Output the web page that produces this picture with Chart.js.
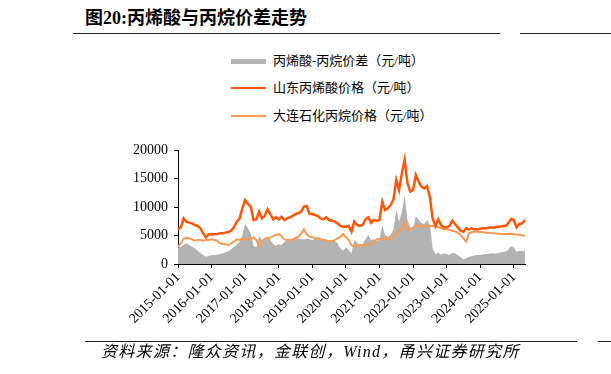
<!DOCTYPE html>
<html>
<head>
<meta charset="utf-8">
<script src="https://cdn.jsdelivr.net/npm/chart.js@4.4.0/dist/chart.umd.min.js"></script>
<style>
  body { margin: 0; width: 611px; height: 374px; background: #fff; position: relative; overflow: hidden;
         font-family: "Liberation Serif", "Noto Sans CJK SC", serif; color: #000; }
  #title { position: absolute; left: 85px; top: 7px; font-size: 18px; font-weight: bold; line-height: 22px; white-space: nowrap; }
  .rule { position: absolute; height: 0; border-top: 1.5px solid #222; }
  .leg { position: absolute; left: 231px; height: 20px; white-space: nowrap; font-size: 13px; line-height: 20px; }
  .leg .sw { position: absolute; left: 0; width: 35px; }
  .leg span { position: absolute; left: 42px; top: 0; }
  #source { position: absolute; left: 101px; top: 342px; font-size: 16px; letter-spacing: 1.3px; font-style: italic; line-height: 20px; white-space: nowrap; }
  #wrap { position: absolute; left: 0; top: 0; width: 611px; height: 374px; }
</style>
</head>
<body>
<div id="title">图20:丙烯酸与丙烷价差走势</div>
<div class="rule" style="left:73px;width:427px;top:33px"></div>
<div class="rule" style="left:520px;width:91px;top:33px"></div>
<div id="legend"></div>
<div id="wrap"><canvas id="chart" width="611" height="374"></canvas></div>
<div class="rule" style="left:85px;width:492px;top:341px"></div>
<div class="rule" style="left:598px;width:13px;top:341px"></div>
<div id="source">资料来源：隆众资讯，金联创，Wind，甬兴证券研究所</div>
<script>
// monthly, 2015-01 .. 2025-05
const years = [2015, 2016, 2017, 2018, 2019, 2020, 2021, 2022, 2023, 2024, 2025];
const lastMonth = 5;

// 山东丙烯酸价格（元/吨）
const acrylicPrice = [
  6080, 6430, 8010, 7430, 7250, 7130, 6840, 6670, 6260, 5380, 4680, 5200,
  5260, 5200, 5260, 5380, 5380, 5500, 5610, 5850, 6430, 7430, 7950, 9770,
  11230, 10530, 10060, 7720, 7840, 9180, 8010, 8420, 9590, 8770, 7840, 8190,
  7840, 8300, 7720, 8010, 8190, 8420, 8770, 8890, 9180, 10060, 10180, 8770,
  8770, 8600, 8420, 8010, 7840, 8190, 7720, 7600, 7430, 7130, 6670, 6550,
  6550, 6670, 5670, 7430, 6840, 6670, 6840, 7840, 8190, 7250, 7720, 7600,
  7720, 10940, 9470, 9770, 10350, 11350, 14740, 12980, 15900, 18300, 14150, 12690,
  12980, 15600, 14440, 13570, 13270, 13680, 11810, 8010, 6670, 7840, 6840, 6430,
  6430, 6670, 7600, 7020, 6430, 5850, 5670, 6260, 6080, 6260, 6080, 6080,
  6200, 6260, 6260, 6370, 6430, 6370, 6550, 6550, 6670, 6670, 7130, 7900,
  7720, 6430, 7020, 7130, 7720
];

// 大连石化丙烷价格（元/吨）
const propanePrice = [
  3040, 3630, 4390, 4620, 4500, 4330, 4090, 4210, 4210, 4090, 4210, 4210,
  4330, 4210, 4090, 3630, 3510, 3450, 3330, 3630, 3920, 4330, 4210, 4440,
  4210, 4330, 4330, 4680, 4210, 3160, 3920, 4440, 4500, 4620, 4910, 5090,
  5260, 4910, 4330, 4210, 4210, 4330, 4560, 4800, 5380, 6080, 5260, 4800,
  4680, 4560, 4500, 4330, 4210, 4090, 4030, 3920, 4210, 4500, 4800, 5260,
  4680, 4210, 3330, 3040, 3220, 3330, 3330, 3330, 3390, 3510, 3920, 4330,
  4440, 4210, 4680, 4210, 4440, 4800, 5260, 5850, 6080, 7430, 5960, 6080,
  6430, 6670, 6840, 6670, 6430, 6670, 6670, 6670, 6550, 6430, 6260, 6080,
  6080, 5960, 5850, 5730, 5500, 5090, 4500, 3920, 5380, 5610, 5670, 5670,
  5610, 5560, 5500, 5500, 5380, 5380, 5320, 5320, 5260, 5260, 5260, 5320,
  5260, 5150, 5150, 5030, 4910
];

// 丙烯酸-丙烷价差（元/吨）
const spread = [
  2920, 3040, 3330, 3630, 3330, 3040, 2750, 2340, 1870, 1580, 1290, 1460,
  1580, 1580, 1640, 1750, 1870, 2050, 2280, 2570, 3040, 3330, 3920, 5090,
  7000, 6260, 5380, 3160, 2920, 4910, 4210, 4500, 4800, 4210, 3510, 3160,
  3510, 3330, 3920, 4090, 4210, 4330, 4440, 4500, 4330, 4330, 4440, 4330,
  4210, 4440, 4330, 4380, 4440, 4330, 4210, 4210, 4040, 3630, 2750, 2340,
  2920, 2460, 1870, 4210, 3740, 3330, 3510, 4330, 5090, 4210, 4330, 4090,
  4210, 6840, 5090, 4800, 5090, 6080, 9470, 7430, 9180, 11930, 7720, 6430,
  6080, 8420, 7720, 7130, 7020, 7720, 6840, 2750, 1750, 1990, 1640, 1870,
  1750, 1580, 1990, 1870, 1580, 1170, 820, 990, 1290, 1400, 1520, 1580,
  1580, 1700, 1760, 1760, 1870, 1820, 1870, 1990, 2100, 2160, 2460, 3160,
  2920, 2160, 2340, 2280, 2340
];

const labels = [];
years.forEach(y => {
  const n = y === 2025 ? lastMonth : 12;
  for (let m = 1; m <= n; m++) {
    labels.push(y + '-' + String(m).padStart(2, '0') + '-01');
  }
});

const datasets = [
  { label: '山东丙烯酸价格（元/吨）', data: acrylicPrice, borderColor: '#FF5608', borderWidth: 2.5, order: 1 },
  { label: '大连石化丙烷价格（元/吨）', data: propanePrice, borderColor: '#F99A50', borderWidth: 2, order: 2 },
  { label: '丙烯酸-丙烷价差（元/吨）', data: spread, borderColor: '#B3B3B3', backgroundColor: '#B3B3B3',
    borderWidth: 0, fill: 'origin', order: 3 }
];

// html legend, stacked like the original
const legendRows = [
  { ds: datasets[2], top: 51, h: 5 },
  { ds: datasets[0], top: 78, h: 2.5 },
  { ds: datasets[1], top: 106, h: 2.5 }
];
const legendEl = document.getElementById('legend');
legendRows.forEach(r => {
  const row = document.createElement('div');
  row.className = 'leg';
  row.style.top = r.top + 'px';
  row.innerHTML = '<div class="sw" style="top:' + (10 - r.h / 2) + 'px;height:' + r.h + 'px;background:' +
    r.ds.borderColor + '"></div><span>' + r.ds.label + '</span>';
  legendEl.appendChild(row);
});

const tickFont = { family: '"Liberation Serif", "Times New Roman", serif', size: 14 };

new Chart(document.getElementById('chart'), {
  type: 'line',
  data: { labels: labels, datasets: datasets },
  options: {
    responsive: false,
    animation: false,
    events: [],
    layout: { padding: { left: 0, top: 150, right: 86, bottom: 0 } },
    elements: { point: { radius: 0 }, line: { tension: 0 } },
    plugins: { legend: { display: false }, tooltip: { enabled: false } },
    scales: {
      x: {
        offset: false,
        border: { color: '#000', width: 1 },
        grid: { drawOnChartArea: false, drawTicks: true, tickLength: 4, color: '#000' },
        ticks: {
          autoSkip: false, minRotation: 45, maxRotation: 45, padding: 1,
          color: '#000', font: tickFont,
          callback: function(value) {
            const lab = this.getLabelForValue(value);
            return lab.slice(4) === '-01-01' ? lab : null;
          }
        },
        afterFit: function(scale) { scale.height = 110; }
      },
      y: {
        min: 0, max: 20000,
        border: { color: '#000', width: 1 },
        grid: { drawOnChartArea: false, drawTicks: true, tickLength: 4, color: '#000' },
        ticks: { stepSize: 5000, padding: 6, color: '#000', font: tickFont,
                 callback: v => String(v) },
        afterFit: function(scale) { scale.width = 178; }
      }
    }
  }
});
</script>
</body>
</html>
